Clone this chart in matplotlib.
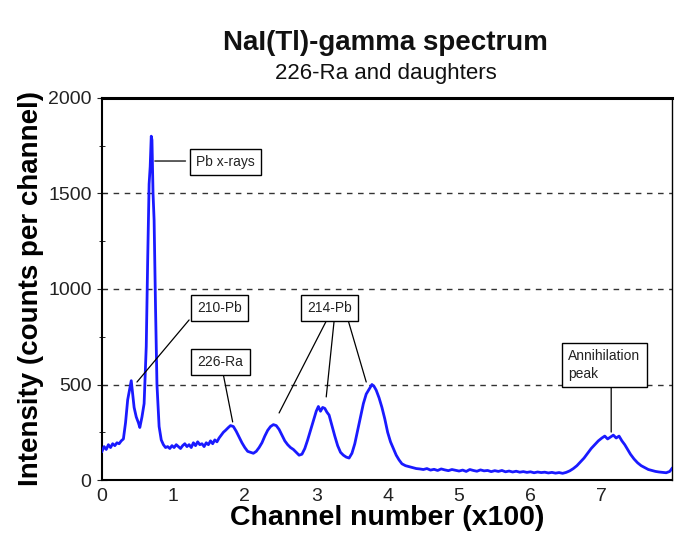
"""NaI(Tl) gamma spectrum of 226-Ra and daughters."""

import matplotlib
matplotlib.use("Agg")
import matplotlib.pyplot as plt
from matplotlib.ticker import MultipleLocator

plt.rcParams["font.family"] = ["Liberation Sans", "DejaVu Sans"]

# spectrum: channel (x100) and counts per channel
channel = [
    0.00, 0.03, 0.06, 0.09, 0.12, 0.15, 0.18, 0.21, 0.24, 0.27,
    0.30, 0.33, 0.36, 0.39, 0.41, 0.43, 0.45, 0.48, 0.51, 0.53,
    0.56, 0.59, 0.62, 0.64, 0.66, 0.675, 0.69, 0.70, 0.715, 0.73,
    0.75, 0.77, 0.80, 0.83, 0.86, 0.89, 0.92, 0.95, 0.98, 1.01,
    1.04, 1.07, 1.10, 1.13, 1.16, 1.19, 1.22, 1.25, 1.28, 1.31,
    1.34, 1.37, 1.40, 1.43, 1.46, 1.49, 1.52, 1.55, 1.58, 1.61,
    1.64, 1.67, 1.70, 1.73, 1.77, 1.80, 1.84, 1.88, 1.92, 1.96,
    2.00, 2.04, 2.08, 2.12, 2.16, 2.20, 2.24, 2.28, 2.32, 2.36,
    2.40, 2.44, 2.48, 2.52, 2.56, 2.60, 2.64, 2.68, 2.72, 2.76,
    2.80, 2.84, 2.88, 2.92, 2.96, 3.00, 3.03, 3.06, 3.09, 3.12,
    3.15, 3.18, 3.22, 3.26, 3.30, 3.34, 3.38, 3.42, 3.46, 3.50,
    3.54, 3.58, 3.62, 3.66, 3.70, 3.74, 3.78, 3.81, 3.84, 3.88,
    3.92, 3.96, 4.00, 4.04, 4.08, 4.12, 4.16, 4.20, 4.25, 4.30,
    4.35, 4.40, 4.45, 4.50, 4.55, 4.60, 4.65, 4.70, 4.75, 4.80,
    4.85, 4.90, 4.95, 5.00, 5.05, 5.10, 5.15, 5.20, 5.25, 5.30,
    5.35, 5.40, 5.45, 5.50, 5.55, 5.60, 5.65, 5.70, 5.75, 5.80,
    5.85, 5.90, 5.95, 6.00, 6.05, 6.10, 6.15, 6.20, 6.25, 6.30,
    6.35, 6.40, 6.45, 6.50, 6.55, 6.60, 6.65, 6.70, 6.75, 6.80,
    6.85, 6.90, 6.95, 7.00, 7.04, 7.08, 7.12, 7.16, 7.20, 7.24,
    7.28, 7.32, 7.36, 7.40, 7.45, 7.50, 7.55, 7.60, 7.65, 7.70,
    7.75, 7.80, 7.85, 7.90, 7.95, 7.98,
]
counts = [
    150, 175, 160, 185, 170, 190, 180, 195, 190, 205,
    215, 300, 420, 480, 520, 450, 380, 330, 300, 275,
    330, 400, 700, 1150, 1550, 1640, 1800, 1780, 1500, 1360,
    900, 500, 280, 210, 185, 170, 175, 165, 180, 170,
    185, 175, 165, 180, 190, 175, 185, 170, 195, 180,
    200, 185, 190, 175, 195, 185, 205, 190, 210, 200,
    220, 235, 250, 260, 275, 285, 280, 255, 225, 195,
    170, 150, 145, 140, 150, 170, 195, 230, 260, 280,
    290, 285, 265, 235, 205, 185, 170, 160, 145, 130,
    135, 165, 210, 260, 310, 360, 385, 360, 380, 375,
    355, 340, 285, 230, 180, 145, 130, 120, 115, 140,
    190, 260, 330, 400, 450, 475, 500, 490, 470, 430,
    380, 320, 250, 200, 165, 130, 105, 85, 75, 70,
    65, 60, 58, 55, 60, 52, 56, 50, 58, 53,
    49, 55, 51, 47, 52, 45, 55, 50, 46, 53,
    48, 50, 44, 49, 45, 50, 43, 47, 42, 46,
    41, 44, 40, 43, 38, 42, 39, 41, 37, 40,
    36, 39, 35, 40, 48, 60, 75, 95, 115, 140,
    165, 185, 205, 220, 230, 215, 225, 235, 220, 230,
    205, 185, 160, 135, 110, 90, 75, 65, 55, 50,
    45, 42, 40, 38, 45, 60,
]

x_ticks = [0, 1, 2, 3, 4, 5, 6, 7]
y_ticks = [0, 500, 1000, 1500, 2000]
grid_levels = [500, 1000, 1500]

# label boxes (centre) and the peaks each one points to
labels = ["Pb x-rays", "210-Pb", "226-Ra", "214-Pb", "Annihilation\npeak"]
label_pos = [(1.73, 1665), (1.65, 900), (1.66, 618), (3.19, 900), (7.10, 602)]
leaders = [
    [((1.17, 1670), (0.74, 1670))],
    [((1.22, 838), (0.49, 513))],
    [((1.70, 550), (1.83, 304))],
    [((3.14, 832), (2.48, 351)), ((3.25, 832), (3.14, 435)),
     ((3.45, 832), (3.70, 513))],
    [((7.13, 492), (7.13, 251))],
]


def main():
    fig = plt.figure(figsize=(6.78, 5.52), dpi=100)
    ax = fig.add_axes([0.1504, 0.1304, 0.8406, 0.6921])

    for level in grid_levels:
        ax.axhline(level, color="#333333", linewidth=1.0,
                   linestyle=(0, (4, 4)), zorder=1)

    ax.plot(channel, counts, color="#1a1aff", linewidth=2, zorder=3)

    for text, pos, lines in zip(labels, label_pos, leaders):
        for start, end in lines:
            ax.annotate("", xy=end, xytext=start,
                        arrowprops=dict(arrowstyle="-", color="black",
                                        linewidth=0.9, shrinkA=0, shrinkB=0),
                        zorder=4)
        multi = "\n" in text
        x = pos[0] - 0.57 if multi else pos[0]
        ax.text(x, pos[1], text, fontsize=10, ha="left" if multi else "center",
                va="center", color="#222222", linespacing=1.35, zorder=5,
                bbox=dict(boxstyle="square,pad=0.45", facecolor="white",
                          edgecolor="black", linewidth=1.0))

    ax.set_xlim(0, 7.98)
    ax.set_ylim(0, 2000)
    ax.set_xticks(x_ticks)
    ax.set_yticks(y_ticks)
    ax.yaxis.set_minor_locator(MultipleLocator(250))
    ax.tick_params(axis="x", length=0, labelsize=14, pad=6, colors="#222222")
    ax.tick_params(axis="y", which="major", direction="inout", length=7,
                   labelsize=14, pad=4, colors="#222222")
    ax.tick_params(axis="y", which="minor", direction="inout", length=4)

    for side in ["left", "bottom"]:
        ax.spines[side].set_linewidth(1.5)
    ax.spines["top"].set_linewidth(2.2)
    ax.spines["right"].set_linewidth(1.0)

    ax.set_xlabel("Channel number (x100)", fontsize=20.5, fontweight="bold",
                  labelpad=0)
    ax.set_ylabel("Intensity (counts per channel)", fontsize=20,
                  fontweight="bold", labelpad=3)

    fig.text(0.569, 0.922, "NaI(Tl)-gamma spectrum", fontsize=20,
             fontweight="bold", ha="center", va="center", color="#111111")
    fig.text(0.569, 0.866, "226-Ra and daughters", fontsize=16,
             ha="center", va="center", color="#111111")

    fig.savefig("out.png", dpi=100)


if __name__ == "__main__":
    main()
